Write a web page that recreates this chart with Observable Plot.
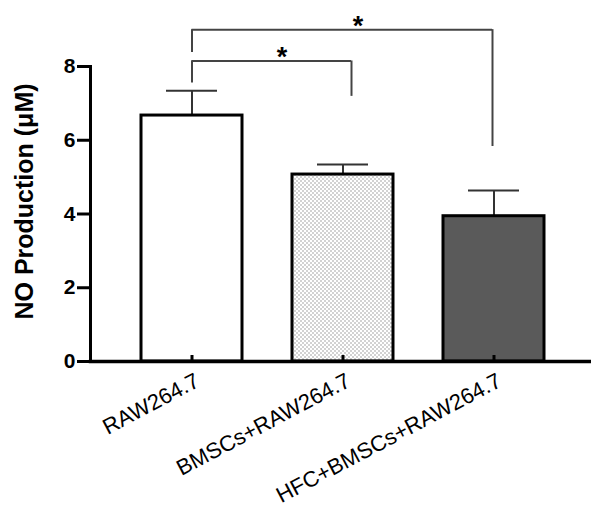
<!DOCTYPE html>
<html><head><meta charset="utf-8">
<script src="https://cdn.jsdelivr.net/npm/d3@7"></script>
<script src="https://cdn.jsdelivr.net/npm/@observablehq/plot@0.6"></script>
<style>body{margin:0;background:#fff}</style>
</head><body><div id="chart"></div>
<script>
// ---- data ----
const categories = ["RAW264.7", "BMSCs+RAW264.7", "HFC+BMSCs+RAW264.7"];
const means = [6.67, 5.07, 3.94];
const errors = [0.67, 0.27, 0.70];
const yTicks = [0, 2, 4, 6, 8];
const yLabel = "NO Production (μM)";
const compFrom = ["RAW264.7", "RAW264.7"];
const compTo = ["BMSCs+RAW264.7", "HFC+BMSCs+RAW264.7"];
const compY = [8.15, 9.0];
const compLeftEnd = [7.55, 8.38];
const compRightEnd = [7.19, 5.83];
const compLabel = ["*", "*"];

// ---- styles ----
const barFills = ["#ffffff", "url(#dots)", "#5a5a5a"];
const rightInsets = [42, 52];
const rightLegDx = [8.5, -1.5];
const starDx = [90, 166];

const data = categories.map((c, i) => ({cat: c, mean: means[i], err: errors[i]}));
const comps = compFrom.map((f, i) => ({from: f, to: compTo[i], y: compY[i], leftEnd: compLeftEnd[i], rightEnd: compRightEnd[i], label: compLabel[i]}));

const bracketMarks = comps.flatMap((c, i) => [
  Plot.ruleY([c], {x1: "from", x2: "to", y: "y", insetLeft: 50.5, insetRight: rightInsets[i], stroke: "#444", strokeWidth: 2}),
  Plot.ruleX([c], {x: "from", y1: "leftEnd", y2: "y", stroke: "#444", strokeWidth: 2}),
  Plot.ruleX([c], {x: "to", y1: "rightEnd", y2: "y", dx: rightLegDx[i], stroke: "#444", strokeWidth: 2}),
  Plot.text([c], {x: "from", y: "y", text: "label", dx: starDx[i], dy: 5, lineAnchor: "bottom", fontSize: 27, fontWeight: "bold", fill: "black"})
]);

const svg = Plot.plot({
  width: 591,
  height: 508,
  marginLeft: 90,
  marginRight: -4,
  marginTop: 66,
  marginBottom: 147,
  style: {fontFamily: "'Liberation Sans', Arial, sans-serif", color: "black", background: "white"},
  x: {domain: categories, padding: 1/3, axis: null},
  y: {domain: [0, 8], axis: null},
  color: {domain: categories, range: barFills},
  marks: [
    Plot.ruleX(data, {x: "cat", y1: "mean", y2: d => d.mean + d.err, stroke: "#333", strokeWidth: 2}),
    Plot.tickY(data, {x: "cat", y: d => d.mean + d.err, insetLeft: 25, insetRight: 25, stroke: "#333", strokeWidth: 2}),
    Plot.barY(data, {x: "cat", y: "mean", fill: "cat", stroke: "black", strokeWidth: 3}),
    Plot.tickX(categories, {x: d => d, insetTop: 289, stroke: "black", strokeWidth: 3}),
    Plot.frame({anchor: "left", stroke: "black", strokeWidth: 3}),
    Plot.frame({anchor: "bottom", stroke: "black", strokeWidth: 3.5}),
    Plot.axisY(yTicks, {tickSize: 13, tickPadding: 2, fontSize: 21, fontWeight: "bold", strokeWidth: 3, stroke: "black", label: null}),
    Plot.text(categories, {x: d => d, frameAnchor: "bottom", dx: 9, dy: 24, rotate: -28, textAnchor: "end", lineAnchor: "bottom", fontSize: 22, fill: "black"}),
    Plot.text([yLabel], {frameAnchor: "left", dx: -58, dy: -12.5, rotate: -90, textAnchor: "middle", lineAnchor: "bottom", fontSize: 25, fontWeight: "bold", fill: "black"}),
    ...bracketMarks
  ]
});

const defs = d3.select(svg).insert("defs", ":first-child");
const pat = defs.append("pattern").attr("id", "dots").attr("width", 4).attr("height", 4).attr("patternUnits", "userSpaceOnUse");
pat.append("rect").attr("width", 4).attr("height", 4).attr("fill", "#ffffff");
pat.append("circle").attr("cx", 1).attr("cy", 1).attr("r", 0.8).attr("fill", "#9a9a9a");
pat.append("circle").attr("cx", 3).attr("cy", 3).attr("r", 0.8).attr("fill", "#9a9a9a");

document.getElementById("chart").appendChild(svg);
</script>
</body></html>
